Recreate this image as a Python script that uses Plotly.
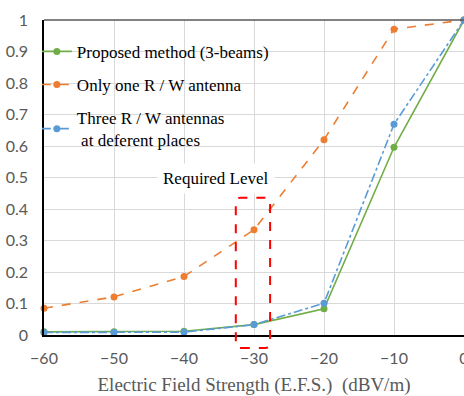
import plotly.graph_objects as go

efs = [-60, -50, -40, -30, -20, -10, 0]
proposed = [0.010, 0.010, 0.012, 0.033, 0.083, 0.596, 1.0]
one_rw = [0.085, 0.121, 0.186, 0.334, 0.620, 0.971, 1.0]
three_rw = [0.008, 0.008, 0.009, 0.033, 0.101, 0.669, 1.0]

names = ["Proposed method (3-beams)", "Only one R / W antenna",
         "Three R / W antennas<br>\u00a0at deferent places"]
colors = ["#70AD47", "#ED7D31", "#5B9BD5"]
dashes = ["solid", "dash", "dashdot"]

x_range = [-60, 0]
y_range = [0, 1]

# required-level box (data units)
box_x = [-32.6, -27.7]
box_y = [-0.041, 0.436]
req_label = "Required Level"
req_pos = (-35.4, 0.497)

serif = "Liberation Serif, Times New Roman, serif"
sans = "Lato, Calibri, sans-serif"

fig = go.Figure()
for i, (name, ys) in enumerate(zip(names, [proposed, one_rw, three_rw])):
    fig.add_trace(go.Scatter(
        x=efs, y=ys, name=name, mode="lines+markers",
        line=dict(color=colors[i], width=1.6, dash=dashes[i]),
        marker=dict(color=colors[i], size=7),
        cliponaxis=False, legendgroup=f"g{i}",
    ))


def px(x):
    return (x - x_range[0]) / (x_range[1] - x_range[0])


def py(y):
    return (y - y_range[0]) / (y_range[1] - y_range[0])


x0, x1 = px(box_x[0]), px(box_x[1])
y0, y1 = py(box_y[0]), py(box_y[1])
rx, ry = 0.012, 0.016
path = (f"M {x0+rx},{y0} L {x1-rx},{y0} Q {x1},{y0} {x1},{y0+ry} "
        f"L {x1},{y1-ry} Q {x1},{y1} {x1-rx},{y1} L {x0+rx},{y1} "
        f"Q {x0},{y1} {x0},{y1-ry} L {x0},{y0+ry} Q {x0},{y0} {x0+rx},{y0} Z")
fig.add_shape(type="path", path=path, xref="paper", yref="paper",
              line=dict(color="#FF0000", width=2, dash="dash"))
# top border
fig.add_shape(type="line", xref="paper", yref="paper", x0=0, x1=1, y0=1, y1=1,
              line=dict(color="#595959", width=1.5))
# white backdrops behind legend rows (hide gridlines)
legend_rows = [(0.062, 0.567, 0.848, 0.946),
               (0.062, 0.519, 0.746, 0.848),
               (0.062, 0.621, 0.565, 0.746)]
for (a, b, c, d) in legend_rows:
    fig.add_shape(type="rect", xref="paper", yref="paper", layer="between",
                  x0=a, x1=b, y0=c, y1=d, line=dict(width=0), fillcolor="white")

fig.add_annotation(x=req_pos[0], y=req_pos[1], text=req_label, showarrow=False,
                   font=dict(family=serif, size=17, color="#000000"),
                   bgcolor="white", borderpad=5)

fig.update_layout(
    width=464, height=396,
    margin=dict(l=44, r=0, t=20, b=61),
    paper_bgcolor="white", plot_bgcolor="white",
    showlegend=True,
    legend=dict(x=-0.017, y=0.956, xanchor="left", yanchor="top",
                bgcolor="rgba(255,255,255,0)",
                font=dict(family=serif, size=17, color="#000000"),
                traceorder="grouped", tracegroupgap=8, itemwidth=30),
    xaxis=dict(range=x_range, dtick=10, tick0=-60, showgrid=True, gridcolor="#D9D9D9",
               gridwidth=1, showline=True, linecolor="#000000", linewidth=1.5,
               zeroline=False, ticks="", ticklabelstandoff=8, automargin=False,
               ticklabeloverflow="allow",
               tickfont=dict(family=sans, size=16, color="#595959"),
               title=dict(text="Electric Field Strength (E.F.S.) \u00a0(dBV/m)",
                          font=dict(family=serif, size=19, color="#595959"),
                          standoff=15)),
    yaxis=dict(range=y_range, dtick=0.1, showgrid=True, gridcolor="#D9D9D9",
               gridwidth=1, showline=True, linecolor="#000000", linewidth=1.5,
               zeroline=False, ticks="", ticklabelstandoff=11, automargin=False,
               ticklabeloverflow="allow",
               tickfont=dict(family=sans, size=16, color="#595959")),
)

fig.write_html("out.html", config={"displayModeBar": False},
               post_script="document.body.style.margin='0';"
                           "document.body.style.overflow='hidden';")
